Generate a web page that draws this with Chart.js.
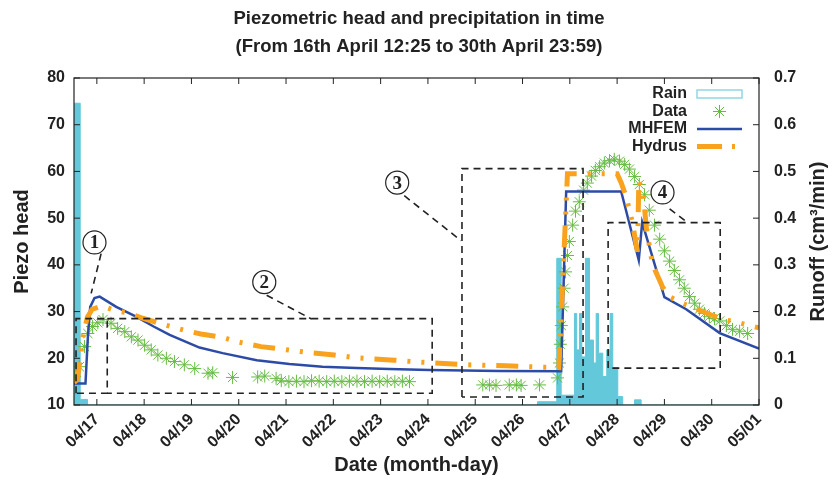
<!DOCTYPE html>
<html><head><meta charset="utf-8">
<script src="https://cdn.jsdelivr.net/npm/chart.js@4.4.0/dist/chart.umd.min.js"></script>
<style>html,body{margin:0;padding:0;background:#fff}#wrap{width:838px;height:482px;position:relative}</style>
</head><body><div id="wrap"><canvas id="c" width="838" height="482"></canvas></div>
<script>
// ---------- data ----------
const titleLines = ['Piezometric head and precipitation in time', '(From 16th April 12:25 to 30th April 23:59)'];
const xTitle = 'Date (month-day)';
const yTitle = 'Piezo head';
const y2Title = 'Runoff (cm\u00B3/min)';
const xTickDays = [17,18,19,20,21,22,23,24,25,26,27,28,29,30,31];
const xTickLabels = ['04/17','04/18','04/19','04/20','04/21','04/22','04/23','04/24','04/25','04/26','04/27','04/28','04/29','04/30','05/01'];
const seriesNames = ['Rain','Data','MHFEM','Hydrus'];

const rainDays   = [16.517,16.648,16.802,26.316,26.724,26.817,27.098,27.146,27.204,27.253,27.331,27.416,27.500,27.557,27.606,27.697,27.781,27.853,27.908,28.014,28.119,28.367,28.508,31.0];
const rainValues = [0.646, 0.012, 0,     0.007, 0.314, 0.021, 0.196, 0.118, 0.196, 0.103, 0.314, 0.139, 0.090, 0.196, 0.111, 0.061, 0.118, 0.196, 0.080, 0.018, 0,     0.011, 0,     0];

const dataDays = [16.53,16.63,16.74,16.81,16.91,17.02,17.13,17.30,17.44,17.59,17.73,17.87,18.01,18.15,18.29,18.47,18.64,18.85,19.07,19.35,19.45,19.87,20.40,20.55,20.79,
  20.90,21.06,21.22,21.38,21.54,21.70,21.86,22.02,22.18,22.34,22.50,22.66,22.82,22.98,23.14,23.30,23.46,23.61,
  25.16,25.30,25.44,25.72,25.87,25.97,26.36,
  26.74,26.78,26.80,26.82,26.85,26.88,26.91,26.95,26.99,27.06,27.12,27.20,27.29,27.37,27.46,27.54,27.63,27.73,27.84,27.94,28.05,28.16,28.26,28.37,28.47,28.58,28.68,28.79,28.90,29.00,29.11,29.21,29.32,29.42,29.53,29.64,29.74,29.85,29.95,30.06,30.17,30.31,30.44,30.59,30.76];
const dataHead = [16.1,18.2,22.5,25.3,26.8,27.6,28.3,27.5,26.4,25.7,24.6,23.9,22.8,21.8,20.7,20.0,19.3,18.6,17.8,16.8,16.9,15.9,16.0,16.2,15.7,
  15.2,15.0,15.1,15.0,15.2,15.1,15.0,15.1,15.0,15.1,15.1,15.0,15.1,15.0,15.1,15.0,15.1,15.0,
  14.3,14.3,14.2,14.3,14.3,14.2,14.3,
  15.8,19.0,23.0,27.0,31.0,35.0,38.5,42.0,45.0,48.5,51.5,53.5,56.0,57.5,59.0,60.2,61.0,61.8,62.3,62.6,62.2,61.5,60.5,58.9,57.2,55.0,51.7,48.5,45.5,43.0,40.8,38.8,36.8,35.0,33.2,31.8,30.5,29.6,28.9,28.5,28.0,27.0,26.2,25.8,25.3];

const mhfemDays = [16.517,16.76,16.81,16.86,16.95,17.06,17.41,17.83,18.20,18.54,18.96,19.17,19.66,20.38,21.07,21.77,22.49,23.18,24.03,25.51,26.817,26.923,28.086,28.458,28.53,29.0,29.46,30.17,31.0];
const mhfemHead = [14.6,  14.6, 24.5, 31.0, 32.9, 33.2, 31.0, 28.9, 26.8, 25.0, 23.2, 22.3, 21.1, 19.6, 18.8, 18.2, 17.9, 17.7, 17.5, 17.3, 17.2,  55.7,  55.7,  41.0,  49.1, 33.1,30.5,25.4,22.1];

const hydrusDays = [16.517,16.59,16.66,16.72,16.80,16.90,17.11,17.40,17.70,17.93,18.42,18.67,18.93,19.20,19.65,19.94,20.47,20.96,21.49,22.02,22.50,23.29,23.81,24.34,24.83,25.65,26.14,26.77,26.95,28.00,28.09,28.19,28.32,28.43,28.46,28.55,28.62,28.75,28.96,29.10,29.38,29.63,30.09,30.30,30.62,31.0];
const hydrusHead = [14.8,  15.5, 21.0, 25.5, 28.8, 30.5, 31.2, 30.2, 29.6, 28.7, 27.2, 26.5, 25.8, 25.2, 24.5, 23.6, 22.5, 21.9, 21.2, 20.7, 20.1, 19.6, 19.2, 18.9, 18.6, 18.4, 18.2, 18.0, 59.5, 59.5, 57.5, 54.6, 49.2, 42.8, 58.0, 55.3, 47.8, 40.0, 35.3, 33.2, 31.8, 30.7, 28.9, 28.2, 27.5, 26.5];

// annotation boxes and leaders (data coordinates)
const box1Days = [16.56,16.56,17.22,17.22,16.56];  const box1Head = [12.5,28.5,28.5,12.5,12.5];
const box2Days = [17.22,24.09,24.09,17.22];        const box2Head = [28.5,28.5,12.5,12.5];
const box3Days = [24.72,24.72,27.28,27.28,24.72];  const box3Head = [11.7,60.6,60.6,11.7,11.7];
const box4Days = [27.81,27.81,30.18,30.18,27.81];  const box4Head = [17.9,49.05,49.05,17.9,17.9];
const lead1Days = [17.09,16.88]; const lead1Head = [42.4,33.9];
const lead2Days = [20.59,21.54]; const lead2Head = [33.5,28.4];
const lead3Days = [23.50,24.70]; const lead3Head = [54.8,45.2];
const lead4Days = [29.11,29.49]; const lead4Head = [52.0,49.05];
const markLabels = ['1','2','3','4'];
const markDays = [16.95,20.54,23.35,28.96];
const markHead = [44.8,36.3,57.6,55.5];

// ---------- styles ----------
const FAM = '"Liberation Sans", Arial, Helvetica, sans-serif';
const INK = '#222222';
const C_RAIN = '#63c8d9', C_RAIN_KEY = '#92d6e4', C_DATA = '#66bb44', C_MH = '#2c4ba7', C_HY = '#f9a21d';
const pts = (xs, ys) => xs.map((x, i) => ({x, y: ys[i]}));
const dashBox = (xs, ys) => ({type:'line', data: pts(xs, ys), borderColor: INK, borderWidth: 1.6, borderDash: [7,5],
  pointRadius: 0, fill: false, tension: 0, order: 0, yAxisID: 'y'});

function drawStar(ctx, x, y, r) {
  ctx.beginPath();
  for (let k = 0; k < 4; k++) {
    const a = k * Math.PI / 4;
    ctx.moveTo(x - r * Math.cos(a), y - r * Math.sin(a));
    ctx.lineTo(x + r * Math.cos(a), y + r * Math.sin(a));
  }
  ctx.stroke();
}

const decorPlugin = {
  id: 'decor',
  afterDatasetsDraw(chart) {
    const {ctx, chartArea: a, scales} = chart;
    const sx = scales.x, sy = scales.y, sy2 = scales.y2;
    ctx.save();
    // circled numbers
    ctx.strokeStyle = INK; ctx.fillStyle = INK; ctx.lineWidth = 1.2;
    ctx.font = 'bold 19px "Liberation Serif", "Times New Roman", serif';
    ctx.textAlign = 'center'; ctx.textBaseline = 'middle';
    markLabels.forEach((t, i) => {
      const px = sx.getPixelForValue(markDays[i]), py = sy.getPixelForValue(markHead[i]);
      ctx.beginPath(); ctx.fillStyle = '#fff'; ctx.arc(px, py, 11.5, 0, 2 * Math.PI); ctx.fill(); ctx.stroke();
      ctx.fillStyle = INK; ctx.fillText(t, px, py + 1);
    });
    // frame
    ctx.strokeStyle = INK; ctx.lineWidth = 1.2;
    ctx.strokeRect(a.left, a.top, a.right - a.left, a.bottom - a.top);
    // inward ticks
    ctx.lineWidth = 1;
    ctx.beginPath();
    sx.ticks.forEach(t => { const p = sx.getPixelForValue(t.value);
      ctx.moveTo(p, a.bottom); ctx.lineTo(p, a.bottom - 6); ctx.moveTo(p, a.top); ctx.lineTo(p, a.top + 6); });
    sy.ticks.forEach(t => { const p = sy.getPixelForValue(t.value); ctx.moveTo(a.left, p); ctx.lineTo(a.left + 6, p); });
    sy2.ticks.forEach(t => { const p = sy2.getPixelForValue(t.value); ctx.moveTo(a.right, p); ctx.lineTo(a.right - 6, p); });
    ctx.stroke();
    // legend
    ctx.font = 'bold 16px ' + FAM; ctx.textAlign = 'right'; ctx.textBaseline = 'middle'; ctx.fillStyle = INK;
    const ly = [94, 111.5, 129, 146.5], tx = 687, s0 = 697, s1 = 742;
    seriesNames.forEach((n, i) => ctx.fillText(n, tx, ly[i]));
    ctx.strokeStyle = C_RAIN_KEY; ctx.lineWidth = 1.5; ctx.fillStyle = '#fff';
    ctx.fillRect(s0, ly[0] - 4, s1 - s0, 8); ctx.strokeRect(s0, ly[0] - 4, s1 - s0, 8);
    ctx.strokeStyle = C_DATA; ctx.lineWidth = 1; drawStar(ctx, (s0 + s1) / 2, ly[1], 6.5);
    ctx.strokeStyle = C_MH; ctx.lineWidth = 2.5; ctx.beginPath(); ctx.moveTo(s0, ly[2]); ctx.lineTo(s1, ly[2]); ctx.stroke();
    ctx.strokeStyle = C_HY; ctx.lineWidth = 5; ctx.lineCap = 'butt'; ctx.beginPath();
    ctx.moveTo(s0, ly[3]); ctx.lineTo(s0 + 25, ly[3]); ctx.moveTo(s0 + 35, ly[3]); ctx.lineTo(s0 + 38, ly[3]); ctx.stroke();
    // right axis title (reads bottom to top)
    ctx.save();
    ctx.translate(818, (a.top + a.bottom) / 2);
    ctx.rotate(-Math.PI / 2);
    ctx.font = 'bold 20px ' + FAM; ctx.textAlign = 'center'; ctx.textBaseline = 'middle'; ctx.fillStyle = INK;
    ctx.fillText(y2Title, 0, 0);
    ctx.restore();
    ctx.restore();
  }
};

new Chart(document.getElementById('c'), {
  data: {
    datasets: [
      {type:'line', label: seriesNames[3], data: pts(hydrusDays, hydrusHead), borderColor: C_HY, borderWidth: 5,
        borderDash: [22,11,3,11,3,11], borderCapStyle: 'butt', pointRadius: 0, fill: false, tension: 0, order: 1, yAxisID: 'y'},
      {type:'line', label: seriesNames[2], data: pts(mhfemDays, mhfemHead), borderColor: C_MH, borderWidth: 2.5,
        pointRadius: 0, fill: false, tension: 0, order: 2, yAxisID: 'y'},
      {type:'line', label: seriesNames[1], data: pts(dataDays, dataHead), showLine: false, pointStyle: 'star',
        pointRadius: 6.5, pointBorderWidth: 1, pointBorderColor: C_DATA, pointBackgroundColor: C_DATA, borderColor: C_DATA, order: 3, yAxisID: 'y'},
      {type:'line', label: seriesNames[0], data: pts(rainDays, rainValues), stepped: 'before', fill: 'origin',
        backgroundColor: C_RAIN, borderColor: C_RAIN, borderWidth: 1, pointRadius: 0, tension: 0, order: 5, yAxisID: 'y2'},
      dashBox(box1Days, box1Head), dashBox(box2Days, box2Head), dashBox(box3Days, box3Head), dashBox(box4Days, box4Head),
      dashBox(lead1Days, lead1Head), dashBox(lead2Days, lead2Head), dashBox(lead3Days, lead3Head), dashBox(lead4Days, lead4Head)
    ]
  },
  options: {
    responsive: false, animation: false, devicePixelRatio: 1,
    layout: {padding: 0},
    plugins: {
      legend: {display: false}, tooltip: {enabled: false},
      title: {display: true, text: titleLines, color: INK, font: {family: FAM, size: 18.5, weight: 'bold', lineHeight: 1.5},
        padding: {top: 5, bottom: 17.5}}
    },
    scales: {
      x: {type: 'linear', position: 'bottom', min: 16.517, max: 31.0,
        afterBuildTicks: s => { s.ticks = xTickDays.map(v => ({value: v})); },
        afterFit: s => { s.height = 77; },
        grid: {display: false}, border: {display: false},
        ticks: {autoSkip: false, minRotation: 45, maxRotation: 45, padding: -3, color: INK,
          font: {family: FAM, size: 16, weight: 'bold'}, callback: (v, i) => xTickLabels[i]},
        title: {display: true, text: xTitle, color: INK, font: {family: FAM, size: 20, weight: 'bold', lineHeight: 1.2},
          padding: {top: 0, bottom: 5}}
      },
      y: {type: 'linear', position: 'left', min: 10, max: 80,
        afterFit: s => { s.width = 74; },
        grid: {display: false}, border: {display: false},
        ticks: {stepSize: 10, padding: 1, color: INK, font: {family: FAM, size: 16, weight: 'bold'}},
        title: {display: true, text: yTitle, color: INK, font: {family: FAM, size: 20, weight: 'bold', lineHeight: 1.2},
          padding: {top: 10, bottom: 0}}
      },
      y2: {type: 'linear', position: 'right', min: 0, max: 0.7,
        afterFit: s => { s.width = 79; },
        grid: {display: false}, border: {display: false},
        ticks: {stepSize: 0.1, padding: 7, color: INK, font: {family: FAM, size: 16, weight: 'bold'},
          callback: v => (Math.abs(v) < 1e-9 ? '0' : v.toFixed(1))}
      }
    }
  },
  plugins: [decorPlugin]
});
</script>
</body></html>
